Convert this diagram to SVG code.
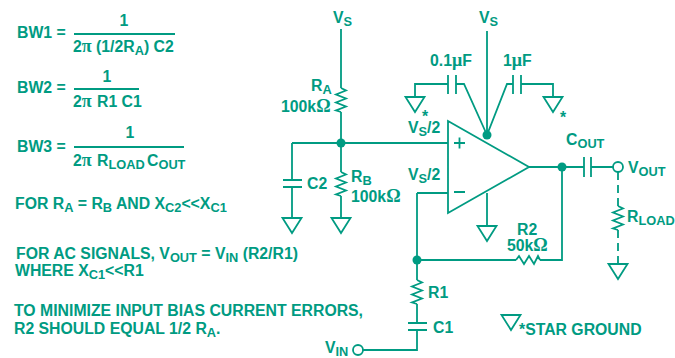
<svg xmlns="http://www.w3.org/2000/svg" width="675" height="358" viewBox="0 0 675 358">
<style>
text{font-family:"Liberation Sans",Arial,sans-serif;font-weight:700;font-size:15.800px;fill:#009b82}
.sym{font-family:"Liberation Serif","DejaVu Serif",serif;font-size:18px}
.sub{font-size:12.800px}
.w{fill:none;stroke:#009b82;stroke-width:1.800;stroke-linejoin:miter}
.d{stroke-dasharray:8 5}
.dot{fill:#009b82}
.o{fill:#fff;stroke:#009b82;stroke-width:1.800}
</style>
<defs>
<path id="gnd" class="w" d="M-9.500 0H9.500L0 15Z"/>
<path id="rv" class="w" d="M0 0L5 2.500L-5 6.500L5 10.500L-5 14.500L5 18.500L-5 22.500L0 24"/>
</defs>
<g id="equations">
<text x="17" y="38">BW1 =</text><text x="124" y="26" text-anchor="middle">1</text><path class="w" d="M74 34H175"/>
<text x="73" y="52">2<tspan class="sym">π</tspan><tspan x="96">(1/2R</tspan><tspan class="sub" dy="3">A</tspan><tspan dy="-3">) C2</tspan></text>
<text x="17" y="93">BW2 =</text><text x="107" y="82" text-anchor="middle">1</text><path class="w" d="M74 89H139"/>
<text x="73" y="107">2<tspan class="sym">π</tspan><tspan x="97">R1 C1</tspan></text>
<text x="17" y="152">BW3 =</text><text x="130" y="138" text-anchor="middle">1</text><path class="w" d="M74 147H184"/>
<text x="73" y="166">2<tspan class="sym">π</tspan><tspan x="97">R</tspan><tspan class="sub" dy="3">LOAD</tspan><tspan x="147" dy="-3">C</tspan><tspan class="sub" dy="3">OUT</tspan></text>
</g>
<g id="notes">
<text x="15" y="209">FOR R<tspan class="sub" dy="3">A</tspan><tspan dy="-3"> = R</tspan><tspan class="sub" dy="3">B</tspan><tspan dy="-3"> AND X</tspan><tspan class="sub" dy="3">C2</tspan><tspan dy="-3">&lt;&lt;X</tspan><tspan class="sub" dy="3">C1</tspan></text>
<text x="16" y="259">FOR AC SIGNALS, V<tspan class="sub" dy="3">OUT</tspan><tspan dy="-3"> = V</tspan><tspan class="sub" dy="3">IN</tspan><tspan dy="-3"> (R2/R1)</tspan></text>
<text x="15" y="276">WHERE X<tspan class="sub" dy="3">C1</tspan><tspan dy="-3">&lt;&lt;R1</tspan></text>
<text x="14" y="316">TO MINIMIZE INPUT BIAS CURRENT ERRORS,</text>
<text x="14" y="334">R2 SHOULD EQUAL 1/2 R<tspan class="sub" dy="3">A</tspan><tspan dy="-3">.</tspan></text>
</g>
<g id="connectors">
<path class="w" d="M341 29V88M341 112V172M341 196V218M292 143H448M292 143V180M292 187V218"/>
<path class="w" d="M417 193H448M417 193V280M417 304V323M417 330V350H363M417 260H516M540 260H562V167M529 167H584M591 167H613"/>
<path class="w" d="M487 31V135M487 135L464 84H456M448 84H415V97M487 135L507 84H513M521 84H553V97M487 193V226"/>
<path class="w d" d="M618 172V206M618 230V264"/>
</g>
<g id="amp"><path class="w" d="M448 121L529 167L448 213Z"/><path class="w" d="M454 143H465M459.500 137.500V148.500M454 192H465"/></g>
<g id="ra"><use href="#rv" x="341" y="88"/><text x="311" y="91">R<tspan class="sub" dy="3">A</tspan></text><text x="281" y="112">100k<tspan class="sym">Ω</tspan></text></g>
<g id="rb"><use href="#rv" x="341" y="172"/><text x="351" y="182">R<tspan class="sub" dy="3">B</tspan></text><text x="351" y="202">100k<tspan class="sym">Ω</tspan></text></g>
<g id="c2"><path class="w" d="M283 180H302M283 187H302"/><text x="307" y="189">C2</text></g>
<g id="r1"><use href="#rv" x="417" y="280"/><text x="428" y="298">R1</text></g>
<g id="c1"><path class="w" d="M408 323H427M408 330H427"/><text x="433" y="333">C1</text></g>
<g id="vin"><circle class="o" cx="358" cy="350" r="5"/><text x="325" y="353">V<tspan class="sub" dy="3">IN</tspan></text></g>
<g id="r2"><path class="w" d="M516 260L519 256L524 264L529 256L534 264L538 256L540 260"/><text x="517" y="235">R2</text><text x="507" y="251">50k<tspan class="sym">Ω</tspan></text></g>
<g id="cout"><path class="w" d="M584 157V177M591 157V177"/><text x="566" y="145">C<tspan class="sub" dy="3">OUT</tspan></text></g>
<g id="vout"><circle class="o" cx="618" cy="167" r="5"/><text x="628" y="173">V<tspan class="sub" dy="3">OUT</tspan></text></g>
<g id="rload"><use href="#rv" x="618" y="206"/><text x="627" y="222">R<tspan class="sub" dy="3">LOAD</tspan></text></g>
<g id="cap01"><path class="w" d="M448 75V94M456 75V94"/><text x="430" y="66">0.1<tspan class="sym">μ</tspan>F</text></g>
<g id="cap1"><path class="w" d="M513 75V94M521 75V94"/><text x="503" y="66">1<tspan class="sym">μ</tspan>F</text></g>
<g id="vs1"><text x="333" y="23">V<tspan class="sub" dy="3">S</tspan></text></g>
<g id="vs2"><text x="479" y="23">V<tspan class="sub" dy="3">S</tspan></text></g>
<g id="vsh1"><text x="408" y="133">V<tspan class="sub" dy="3">S</tspan><tspan dy="-3">/2</tspan></text></g>
<g id="vsh2"><text x="408" y="180">V<tspan class="sub" dy="3">S</tspan><tspan dy="-3">/2</tspan></text></g>
<g id="grounds">
<use href="#gnd" x="292" y="218"/><use href="#gnd" x="341" y="218"/><use href="#gnd" x="487" y="226"/><use href="#gnd" x="618" y="264"/>
<use href="#gnd" x="415" y="97"/><use href="#gnd" x="553" y="97"/>
<text x="422" y="122">*</text><text x="560" y="123">*</text>
</g>
<g id="dots"><circle class="dot" cx="341" cy="143" r="4.500"/><circle class="dot" cx="487" cy="135" r="4.500"/><circle class="dot" cx="562" cy="167" r="4.500"/><circle class="dot" cx="417" cy="260" r="4.500"/></g>
<g id="star"><use href="#gnd" x="511" y="315"/><text x="519" y="335">*STAR GROUND</text></g>
</svg>
